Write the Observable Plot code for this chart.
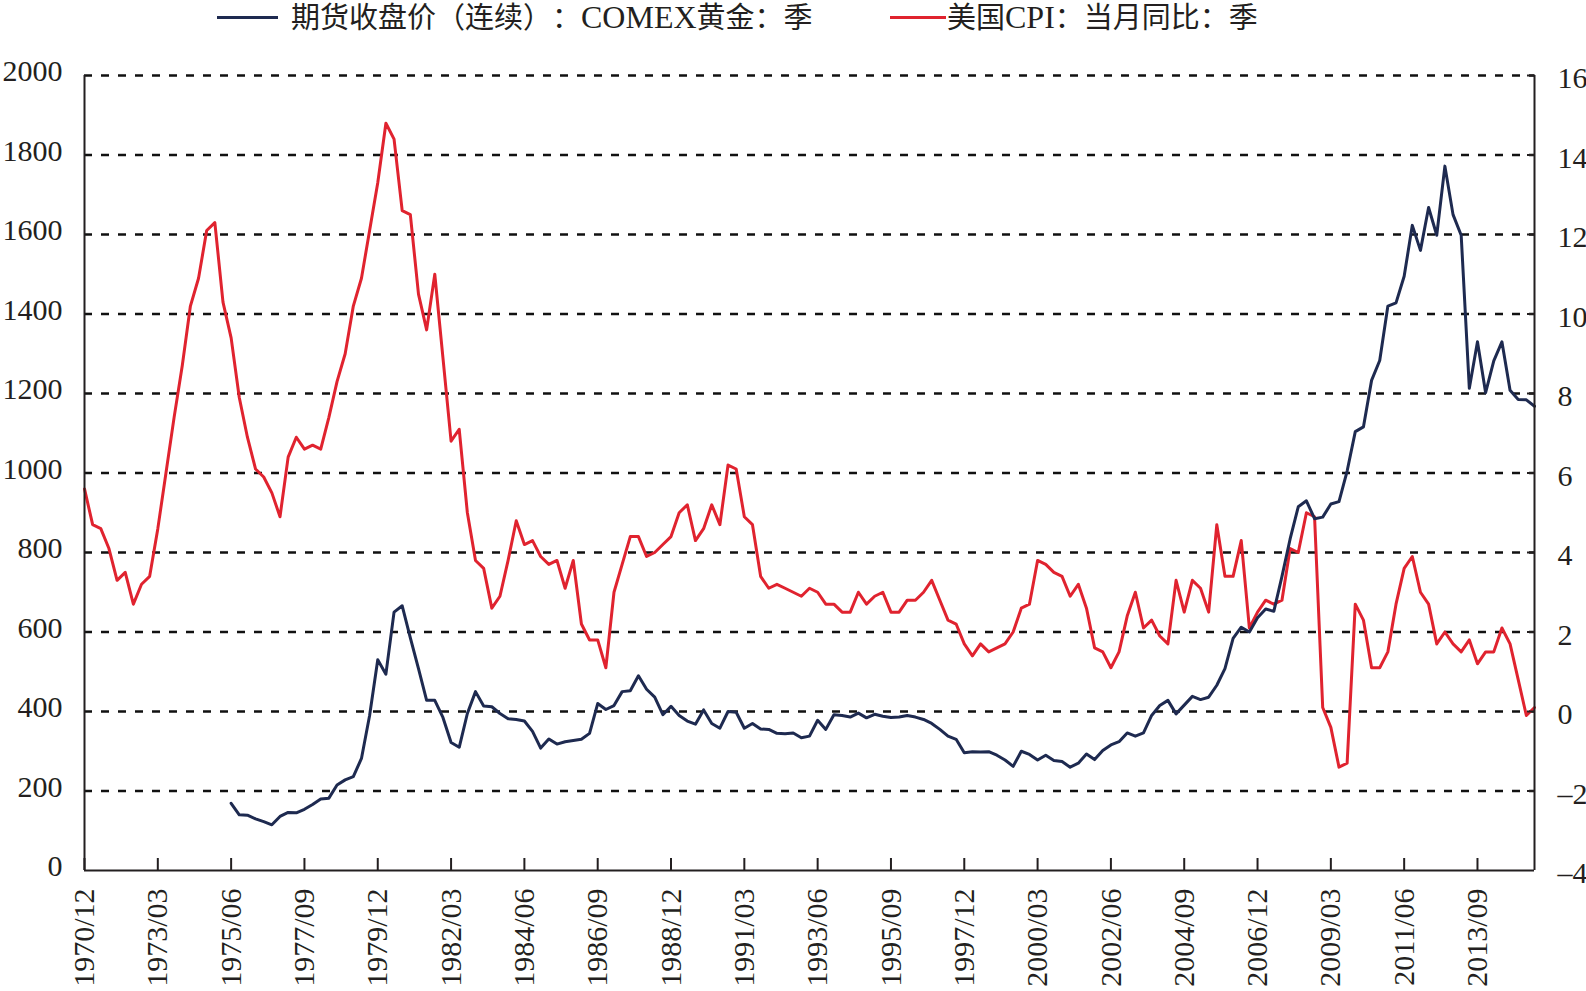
<!DOCTYPE html>
<html><head><meta charset="utf-8">
<script src="https://cdn.jsdelivr.net/npm/d3@7"></script>
<script src="https://cdn.jsdelivr.net/npm/@observablehq/plot@0.6"></script>
<style>
body{margin:0;background:#fff;}
#legend{height:36px;position:relative;font-family:"Liberation Serif","Noto Sans CJK SC",serif;font-size:29px;color:#231f20;text-spacing-trim:space-all;font-feature-settings:"fwid" 1;}
.sw{position:absolute;top:16px;height:3px;}
.tx{position:absolute;top:0;height:34px;line-height:34px;white-space:nowrap;}
.lat{font-size:32px;}
</style></head><body>
<div id="legend"></div>
<div id="chart"></div>
<script>
// ---- data ----
const seriesNames = ["期货收盘价（连续）：COMEX黄金：季", "美国CPI：当月同比：季"];
const seriesColors = ["#1e2a50", "#e0232f"];

// quarterly categories 1970/12 ... 2015/06
const quarterLabels = [];
for (let y = 1970, m = 12; quarterLabels.length < 179;) {
  quarterLabels.push(`${y}/${String(m).padStart(2, "0")}`);
  m += 3; if (m > 12) { m = 3; y++; }
}
const tickLabels = ["1970/12","1973/03","1975/06","1977/09","1979/12","1982/03","1984/06","1986/09","1988/12","1991/03",
  "1993/06","1995/09","1997/12","2000/03","2002/06","2004/09","2006/12","2009/03","2011/06","2013/09"];
const leftTicks = [0,200,400,600,800,1000,1200,1400,1600,1800,2000];
const rightTicks = [-4,-2,0,2,4,6,8,10,12,14,16];

// COMEX gold, quarterly close, from 1975/06
const goldStart = "1975/06";
const gold = [
 169,140,139,130,123,115,136,146,145,154,166,180,182,215,228,236,282,390,530,494,
 650,666,585,508,428,428,385,322,310,395,450,414,412,395,382,380,376,350,308,331,
 318,324,327,330,345,420,405,415,450,452,490,456,436,392,413,390,376,368,404,370,
 358,400,398,358,370,356,355,345,344,346,334,338,378,355,392,390,386,396,384,393,
 388,385,386,390,386,380,370,355,338,330,296,299,298,299,290,278,262,300,292,278,
 290,277,274,260,270,293,279,302,316,324,346,338,346,390,415,428,394,416,438,430,
 436,466,508,584,612,600,636,658,652,740,834,915,930,885,889,922,928,1005,1104,1116,
 1233,1283,1420,1428,1495,1623,1560,1668,1598,1772,1650,1598,1213,1330,1202,1282,1330,1208,1185,1184,
 1168
];

// US CPI YoY (%), quarterly, from 1970/12
const cpi = [
 5.6,
 4.7,4.6,4.1,3.3, 3.5,2.7,3.2,3.4, 4.6,6.0,7.4,8.7, 10.2,10.9,12.1,12.3,
 10.3,9.4,7.9,6.9, 6.1,5.9,5.5,4.9, 6.4,6.9,6.6,6.7, 6.6,7.4,8.3,9.0,
 10.2,10.9,12.1,13.3, 14.8,14.4,12.6,12.5, 10.5,9.6,11.0,8.9, 6.8,7.1,5.0,3.8,
 3.6,2.6,2.9,3.8, 4.8,4.2,4.3,3.9, 3.7,3.8,3.1,3.8, 2.2,1.8,1.8,1.1,
 3.0,3.7,4.4,4.4, 3.9,4.0,4.2,4.4, 5.0,5.2,4.3,4.6, 5.2,4.7,6.2,6.1,
 4.9,4.7,3.4,3.1, 3.2,3.1,3.0,2.9, 3.1,3.0,2.7,2.7, 2.5,2.5,3.0,2.7,
 2.9,3.0,2.5,2.5, 2.8,2.8,3.0,3.3, 2.8,2.3,2.2,1.7, 1.4,1.7,1.5,1.6,
 1.7,2.0,2.6,2.7, 3.8,3.7,3.5,3.4, 2.9,3.2,2.6,1.6, 1.5,1.1,1.5,2.4,
 3.0,2.1,2.3,1.9, 1.7,3.3,2.5,3.3, 3.1,2.5,4.7,3.4, 3.4,4.3,2.1,2.5,
 2.8,2.7,2.8,4.1, 4.0,5.0,4.9,0.1, -0.4,-1.4,-1.3,2.7, 2.3,1.1,1.1,1.5,
 2.7,3.6,3.9,3.0, 2.7,1.7,2.0,1.7, 1.5,1.8,1.2,1.5, 1.5,2.1,1.7,0.8,
 -0.1,0.1
];

// ---- build ----
const g0 = quarterLabels.indexOf(goldStart);
const goldRows = gold.map((v, k) => ({i: g0 + k, v}));
const cpiRows = cpi.map((v, k) => ({i: k, v}));
const toLeft = c => (c + 4) * 100;   // align right axis (-4..16) to left axis (0..2000)
const xTicks = tickLabels.map(l => quarterLabels.indexOf(l));
const lastIdx = quarterLabels.length - 1;
const fmtR = v => v < 0 ? "–" + Math.abs(v) : String(v);

// legend (HTML above the SVG)
const legend = document.getElementById("legend");
[[217, 61, 291, 0], [890, 56, 947, 1]].forEach(([sx, sw, tx, s]) => {
  const a = document.createElement("div");
  a.className = "sw"; a.style.left = sx + "px"; a.style.width = sw + "px"; a.style.background = seriesColors[s];
  const b = document.createElement("div");
  b.className = "tx"; b.style.left = tx + "px";
  b.innerHTML = seriesNames[s].replace(/([A-Za-z]+)/g, '<span class="lat">$1</span>');
  legend.appendChild(a); legend.appendChild(b);
});

const chart = Plot.plot({
  width: 1586, height: 955,
  marginTop: 39, marginBottom: 121, marginLeft: 84, marginRight: 52,
  style: {fontFamily: "Liberation Serif, serif", fontSize: "30px", color: "#231f20", background: "#fff"},
  x: {domain: [0, lastIdx]},
  y: {domain: [0, 2000]},
  marks: [
    Plot.gridY(leftTicks.filter(t => t > 0), {stroke: "#111", strokeOpacity: 1, strokeWidth: 2.3, strokeDasharray: "8,9"}),
    Plot.lineY(cpiRows, {x: "i", y: d => toLeft(d.v), stroke: seriesColors[1], strokeWidth: 3}),
    Plot.lineY(goldRows, {x: "i", y: "v", stroke: seriesColors[0], strokeWidth: 3}),
    Plot.ruleX([0, lastIdx], {stroke: "#231f20", strokeWidth: 2}),
    Plot.ruleY([0], {stroke: "#231f20", strokeWidth: 2}),
    Plot.axisX(xTicks, {anchor: "bottom", tickSize: -12, strokeWidth: 2, tickFormat: () => "", label: null}),
    Plot.axisX(xTicks, {anchor: "bottom", tickSize: 0, tickPadding: 18, tickRotate: -90, tickFormat: i => quarterLabels[i], label: null}),
    Plot.axisY(leftTicks, {anchor: "left", tickSize: 0, tickPadding: 22, dy: -4, label: null, tickFormat: d => String(d)}),
    Plot.axisY(rightTicks.map(toLeft).filter(t => t > 0), {anchor: "right", tickSize: -8, strokeWidth: 2, tickFormat: () => "", label: null}),
    Plot.axisY(rightTicks.map(toLeft), {anchor: "right", tickSize: 0, tickPadding: 23, dy: 3, label: null, tickFormat: d => fmtR(d / 100 - 4)})
  ]
});
document.getElementById("chart").appendChild(chart);
</script>
</body></html>
